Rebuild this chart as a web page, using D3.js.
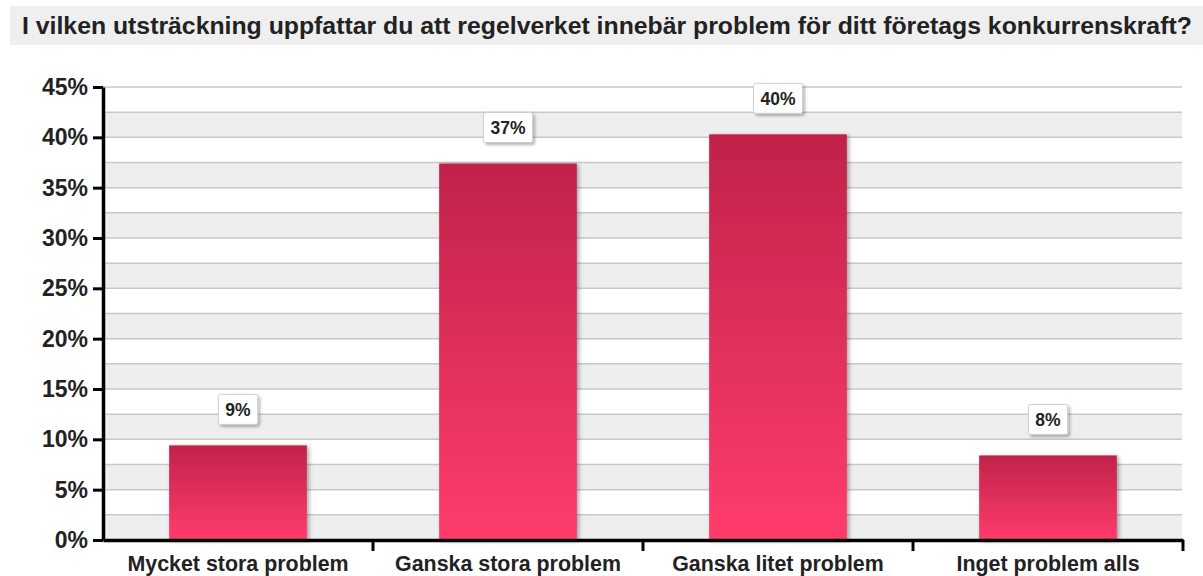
<html>
<head>
<meta charset="utf-8">
<script src="https://cdn.jsdelivr.net/npm/d3@7"></script>
<style>
body { margin: 0; background: #fff; }
text { font-family: "Liberation Sans", Arial, sans-serif; font-weight: bold; }
</style>
</head>
<body>
<svg width="1203" height="576"></svg>
<script>
// data
var title = "I vilken utsträckning uppfattar du att regelverket innebär problem för ditt företags konkurrenskraft?";
var categories = ["Mycket stora problem", "Ganska stora problem", "Ganska litet problem", "Inget problem alls"];
var values = [9.4, 37.4, 40.3, 8.4];
var labels = ["9%", "37%", "40%", "8%"];
var yTicks = [0, 5, 10, 15, 20, 25, 30, 35, 40, 45];
var gridSteps = [2.5, 5, 7.5, 10, 12.5, 15, 17.5, 20, 22.5, 25, 27.5, 30, 32.5, 35, 37.5, 40, 42.5, 45];

var svg = d3.select("svg");

var defs = svg.append("defs");
var grad = defs.append("linearGradient").attr("id", "barGrad")
  .attr("x1", 0).attr("y1", 0).attr("x2", 0).attr("y2", 1);
grad.append("stop").attr("offset", "0%").attr("stop-color", "#c0234a");
grad.append("stop").attr("offset", "100%").attr("stop-color", "#ff3c6c");

var shadow = defs.append("filter").attr("id", "shadow")
  .attr("x", "-10%").attr("y", "-10%").attr("width", "130%").attr("height", "130%");
shadow.append("feDropShadow").attr("dx", 2).attr("dy", 1).attr("stdDeviation", 2)
  .attr("flood-color", "#000").attr("flood-opacity", 0.35);

var boxShadow = defs.append("filter").attr("id", "boxShadow")
  .attr("x", "-20%").attr("y", "-20%").attr("width", "150%").attr("height", "150%");
boxShadow.append("feDropShadow").attr("dx", 2).attr("dy", 2).attr("stdDeviation", 1.5)
  .attr("flood-color", "#000").attr("flood-opacity", 0.3);

// title bar
svg.append("rect").attr("x", 10).attr("y", 6).attr("width", 1193).attr("height", 39).attr("fill", "#efefef");
svg.append("text").attr("x", 22).attr("y", 34)
  .attr("font-size", 24.8).attr("fill", "#222")
  .text(title);

var y = d3.scaleLinear().domain([0, 45]).range([540, 87]);
var x = d3.scaleBand().domain(categories).range([103, 1183]).paddingInner(0.49).paddingOuter(0.245);

var left = 103, right = 1182;

// alternating bands
svg.append("g").selectAll("rect").data(yTicks.slice(0, -1)).enter().append("rect")
  .attr("x", left).attr("width", right - left)
  .attr("y", function(d) { return y(d + 2.5); })
  .attr("height", function(d) { return y(d) - y(d + 2.5); })
  .attr("fill", "#eeeeee");

// grid lines
svg.append("g").selectAll("line").data(gridSteps).enter().append("line")
  .attr("x1", left).attr("x2", right)
  .attr("y1", function(d) { return y(d); }).attr("y2", function(d) { return y(d); })
  .attr("stroke", "#c8c8c8").attr("stroke-width", 1.5);

// bars
svg.append("g").selectAll("rect").data(values).enter().append("rect")
  .attr("x", function(d, i) { return x(categories[i]); })
  .attr("width", x.bandwidth())
  .attr("y", function(d) { return y(d); })
  .attr("height", function(d) { return y(0) - y(d); })
  .attr("fill", "url(#barGrad)")
  .attr("filter", "url(#shadow)");

// value labels in boxes
var lab = svg.append("g").selectAll("g").data(values).enter().append("g")
  .attr("transform", function(d, i) {
    return "translate(" + (x(categories[i]) + x.bandwidth() / 2) + "," + (y(d) - 36) + ")";
  });
lab.append("rect").attr("class", "box")
  .attr("fill", "#fff").attr("stroke", "#cfcfcf").attr("stroke-width", 1)
  .attr("filter", "url(#boxShadow)");
lab.append("text")
  .attr("text-anchor", "middle").attr("dy", "0.36em")
  .attr("font-size", 17.5).attr("fill", "#222")
  .text(function(d, i) { return labels[i]; });
lab.each(function() {
  var g = d3.select(this);
  var w = g.select("text").node().getComputedTextLength();
  g.select("rect").attr("x", -w / 2 - 7).attr("y", -15).attr("width", w + 14).attr("height", 30).attr("rx", 2);
});

// y axis
var yAxis = svg.append("g").attr("transform", "translate(" + left + ",0)")
  .call(d3.axisLeft(y).tickValues(yTicks).tickFormat(function(d) { return d + "%"; }).tickSize(10).tickSizeOuter(0).tickPadding(5));
yAxis.select(".domain").attr("stroke", "#000").attr("stroke-width", 3.5);
yAxis.selectAll(".tick line").attr("stroke", "#000").attr("stroke-width", 3);
yAxis.selectAll("text").attr("font-size", 23).attr("fill", "#222")
  .attr("font-family", "'Liberation Sans', Arial, sans-serif").attr("font-weight", "bold");

// x axis
var xAxis = svg.append("g").attr("transform", "translate(0," + y(0) + ")")
  .call(d3.axisBottom(x).tickSize(0).tickSizeOuter(0).tickPadding(16));
xAxis.select(".domain").attr("stroke", "#000").attr("stroke-width", 3.5);
xAxis.selectAll("text").attr("font-size", 21.4).attr("fill", "#222")
  .attr("font-family", "'Liberation Sans', Arial, sans-serif").attr("font-weight", "bold");
xAxis.selectAll("line.sep").data(categories).enter().append("line").attr("class", "sep")
  .attr("x1", function(d) { return x(d) + x.bandwidth() + x.step() * x.paddingInner() / 2; })
  .attr("x2", function(d) { return x(d) + x.bandwidth() + x.step() * x.paddingInner() / 2; })
  .attr("y1", 0).attr("y2", 11)
  .attr("stroke", "#000").attr("stroke-width", 3);
</script>
</body>
</html>
